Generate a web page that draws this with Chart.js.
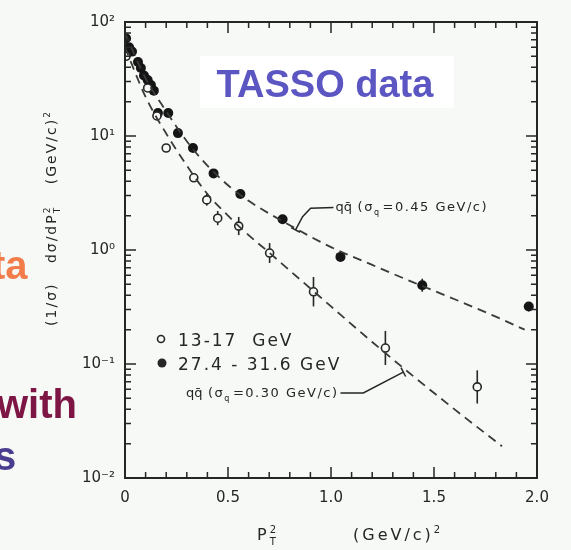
<!DOCTYPE html>
<html>
<head>
<meta charset="utf-8">
<script src="https://cdn.jsdelivr.net/npm/chart.js@4.4.0/dist/chart.umd.min.js"></script>
<style>
  html, body { margin: 0; padding: 0; background: #f6f9f5; }
  #wrap { position: relative; width: 571px; height: 550px; }
</style>
</head>
<body>
<div id="wrap"><canvas id="ptChart"></canvas></div>
<script>
// ===== P_T^2 distributions, TASSO =====

// 13-17 GeV (open circles)
const lowX  = [0.005, 0.11, 0.155, 0.20, 0.334, 0.397, 0.45, 0.552, 0.702, 0.915, 1.264, 1.71];
const lowY  = [50, 26.4, 15, 7.85, 4.3, 2.75, 1.9, 1.62, 0.94, 0.43, 0.138, 0.063];
const lowLo = [null, null, null, null, null, 2.45, 1.65, 1.35, 0.77, 0.32, 0.098, 0.045];
const lowHi = [null, null, null, null, null, 3.1, 2.2, 1.95, 1.15, 0.58, 0.195, 0.088];

// 27.4-31.6 GeV (filled circles)
const highX  = [0.005, 0.02, 0.034, 0.063, 0.077, 0.092, 0.11, 0.126, 0.14, 0.16, 0.21, 0.257, 0.33, 0.43, 0.56, 0.765, 1.046, 1.443, 1.96];
const highY  = [72, 60, 55, 44.5, 39.5, 34, 31, 28, 25, 15.9, 15.9, 10.6, 7.85, 4.7, 3.1, 1.86, 0.87, 0.49, 0.32];
const highLo = [null, null, null, null, null, null, null, null, null, null, null, null, null, null, null, 1.72, null, 0.43, 0.29];
const highHi = [null, null, null, null, null, null, null, null, null, null, null, null, null, null, null, 2.0, null, 0.56, 0.35];

// qq̄ model, sigma_q = 0.45 GeV/c
const hardX = [0, 0.1, 0.2, 0.3, 0.4, 0.5, 0.6, 0.8, 1.0, 1.2, 1.4, 1.6, 1.8, 1.94];
const hardY = [80, 32, 16.5, 9.0, 5.5, 3.7, 2.7, 1.65, 1.06, 0.74, 0.52, 0.37, 0.26, 0.2];

// qq̄ model, sigma_q = 0.30 GeV/c
const softX = [0, 0.1, 0.2, 0.3, 0.4, 0.5, 0.6, 0.7, 0.8, 0.9, 1.0, 1.2, 1.4, 1.6, 1.83];
const softY = [60, 22, 10.5, 5.5, 3.1, 2.0, 1.35, 0.95, 0.66, 0.46, 0.32, 0.156, 0.078, 0.04, 0.019];

// axes
const xTicks = [0, 0.5, 1.0, 1.5, 2.0];
const xTickText = ["0", "0.5", "1.0", "1.5", "2.0"];
const yTicks = [0.01, 0.1, 1, 10, 100];
const yTickText = ["10\u207B\u00B2", "10\u207B\u00B9", "10\u2070", "10\u00B9", "10\u00B2"];

// leader lines to the model curves (data units)
const hardLeader = [[0.828, 1.5], [0.862, 1.96], [0.901, 2.32], [1.012, 2.36]];
const softLeader = [[1.351, 0.085], [1.157, 0.0557], [1.046, 0.0557]];

const legendText = ["13-17  GeV", "27.4 - 31.6 GeV"];

const BG = "#f6f9f5";
const INK = "#262626";
const FONT = "'DejaVu Sans', sans-serif";

function pts(xs, ys) {
  return xs.map((x, i) => ({ x: x, y: ys[i] }));
}

function setSpacing(ctx, s) {
  if ("letterSpacing" in ctx) ctx.letterSpacing = s;
}

// plain runs and stacked sup/sub runs, left to right
function drawRuns(ctx, x, y, runs, size, measureOnly) {
  const x0 = x;
  runs.forEach((r) => {
    const keep = ctx.letterSpacing;
    if (r.tight) setSpacing(ctx, "0px");
    if (r.sup !== undefined || r.sub !== undefined) {
      ctx.font = Math.round(size * 0.62) + "px " + FONT;
      let w = 0;
      if (r.sup !== undefined) {
        if (!measureOnly) ctx.fillText(r.sup, x, y - size * 0.45);
        w = Math.max(w, ctx.measureText(r.sup).width);
      }
      if (r.sub !== undefined) {
        if (!measureOnly) ctx.fillText(r.sub, x, y + size * 0.3);
        w = Math.max(w, ctx.measureText(r.sub).width);
      }
      x += w + 2;
    } else {
      ctx.font = size + "px " + FONT;
      if (!measureOnly) ctx.fillText(r.t, x, y);
      x += ctx.measureText(r.t).width;
    }
    if (r.tight) setSpacing(ctx, keep);
  });
  return x - x0;
}

// vertical error bars, under the markers
const errBars = {
  id: "errBars",
  beforeDatasetsDraw(chart) {
    const { ctx, scales } = chart;
    ctx.save();
    ctx.strokeStyle = INK;
    ctx.lineWidth = 1.6;
    chart.data.datasets.forEach((ds) => {
      if (!ds.errLo) return;
      ds.data.forEach((p, i) => {
        if (ds.errLo[i] == null) return;
        const px = scales.x.getPixelForValue(p.x);
        ctx.beginPath();
        ctx.moveTo(px, scales.y.getPixelForValue(ds.errLo[i]));
        ctx.lineTo(px, scales.y.getPixelForValue(ds.errHi[i]));
        ctx.stroke();
      });
    });
    ctx.restore();
  },
};

// frame, inward ticks, titles, notes
const decor = {
  id: "decor",
  beforeDraw(chart) {
    const { ctx } = chart;
    ctx.save();
    ctx.fillStyle = BG;
    ctx.fillRect(0, 0, chart.width, chart.height);
    ctx.restore();
  },
  afterDraw(chart) {
    const { ctx, chartArea: a, scales } = chart;
    const xs = scales.x, ys = scales.y;
    ctx.save();

    // frame
    ctx.strokeStyle = INK;
    ctx.lineWidth = 2;
    ctx.strokeRect(a.left, a.top, a.right - a.left, a.bottom - a.top);

    // x ticks every 0.1
    ctx.lineWidth = 1.5;
    for (let k = 1; k < 20; k++) {
      const px = xs.getPixelForValue(k / 10);
      const len = k % 5 === 0 ? 11 : 6;
      ctx.beginPath();
      ctx.moveTo(px, a.bottom); ctx.lineTo(px, a.bottom - len);
      ctx.moveTo(px, a.top); ctx.lineTo(px, a.top + len);
      ctx.stroke();
    }
    // log ticks
    for (let d = -2; d < 2; d++) {
      for (let m = 1; m <= 9; m++) {
        const py = ys.getPixelForValue(m * Math.pow(10, d));
        const len = m === 1 ? 11 : 6;
        ctx.beginPath();
        ctx.moveTo(a.left, py); ctx.lineTo(a.left + len, py);
        ctx.moveTo(a.right, py); ctx.lineTo(a.right - len, py);
        ctx.stroke();
      }
    }

    ctx.fillStyle = INK;
    ctx.textAlign = "left";
    ctx.textBaseline = "alphabetic";

    // x title
    setSpacing(ctx, "3px");
    drawRuns(ctx, a.left + 132, 540, [{ t: "P" }, { sup: "2", sub: "T" }], 16);
    drawRuns(ctx, a.left + 228, 540, [{ t: "(GeV/c)" }, { sup: "2" }], 16);

    // y title, rotated
    ctx.save();
    ctx.translate(56, 0);
    ctx.rotate(-Math.PI / 2);
    setSpacing(ctx, "2px");
    const yRuns = [
      { t: "(1/\u03C3)   d\u03C3/dP" }, { sup: "2", sub: "T" },
      { t: "   (GeV/c)" }, { sup: "2" },
    ];
    const yw = drawRuns(ctx, 0, 0, yRuns, 14, true);
    drawRuns(ctx, -217 - yw / 2, 0, yRuns, 14);
    ctx.restore();

    // legend
    setSpacing(ctx, "2px");
    ctx.font = "17px " + FONT;
    const lx = a.left + 36;
    ctx.lineWidth = 1.6;
    ctx.beginPath();
    ctx.arc(lx, 339, 3.5, 0, Math.PI * 2);
    ctx.stroke();
    ctx.beginPath();
    ctx.arc(lx + 1, 363, 4.5, 0, Math.PI * 2);
    ctx.fill();
    ctx.fillText(legendText[0], lx + 17, 346);
    ctx.fillText(legendText[1], lx + 17, 370);

    // model notes with leaders
    setSpacing(ctx, "1.5px");
    const noteRuns = (s) => [{ t: "qq\u0304", tight: true }, { t: " (\u03C3" }, { sub: "q" }, { t: "=" + s + " GeV/c)" }];
    ctx.lineWidth = 1.5;
    [[hardLeader, "0.45", "left"], [softLeader, "0.30", "right"]].forEach(([ld, s, side]) => {
      const p = ld.map(([vx, vy]) => [xs.getPixelForValue(vx), ys.getPixelForValue(vy)]);
      ctx.beginPath();
      ctx.moveTo(p[0][0], p[0][1]);
      for (let i = 1; i < p.length; i++) ctx.lineTo(p[i][0], p[i][1]);
      ctx.stroke();
      // small cross bar at the curve end
      const dx = p[1][0] - p[0][0], dy = p[1][1] - p[0][1];
      const n = Math.hypot(dx, dy);
      const ux = -dy / n, uy = dx / n;
      ctx.beginPath();
      ctx.moveTo(p[0][0] - ux * 5, p[0][1] - uy * 5);
      ctx.lineTo(p[0][0] + ux * 5, p[0][1] + uy * 5);
      ctx.stroke();
      const end = p[p.length - 1];
      const runs = noteRuns(s);
      const w = drawRuns(ctx, 0, 0, runs, 13, true);
      const tx = side === "left" ? end[0] + 2 : end[0] - w - 2;
      drawRuns(ctx, tx, end[1] + 4, runs, 13);
    });

    // slide caption
    setSpacing(ctx, "0px");
    ctx.fillStyle = "#ffffff";
    ctx.fillRect(200, 56, 254, 52);
    ctx.fillStyle = "#5b56c2";
    ctx.font = "bold 38px 'Liberation Sans', Arial, sans-serif";
    ctx.textAlign = "center";
    ctx.fillText("TASSO data", 325, 97);

    // cut-off slide text on the left
    ctx.textAlign = "left";
    ctx.font = "bold 40px 'Liberation Sans', Arial, sans-serif";
    ctx.fillStyle = "#f27d4a";
    ctx.fillText("ta", -8, 279);
    ctx.fillStyle = "#7d1545";
    ctx.fillText("with", -3, 418);
    ctx.fillStyle = "#4a3d8f";
    ctx.fillText("s", -6, 470);

    ctx.restore();
  },
};

new Chart(document.getElementById("ptChart"), {
  type: "scatter",
  data: {
    datasets: [
      {
        type: "line",
        data: pts(hardX, hardY),
        borderColor: "#3a3a3a",
        borderWidth: 1.8,
        borderDash: [9, 6],
        pointRadius: 0,
        cubicInterpolationMode: "monotone",
        fill: false,
      },
      {
        type: "line",
        data: pts(softX, softY),
        borderColor: "#3a3a3a",
        borderWidth: 1.8,
        borderDash: [9, 6],
        pointRadius: 0,
        cubicInterpolationMode: "monotone",
        fill: false,
      },
      {
        data: pts(lowX, lowY),
        errLo: lowLo,
        errHi: lowHi,
        pointRadius: 4,
        pointBorderWidth: 1.6,
        pointBackgroundColor: BG,
        pointBorderColor: INK,
      },
      {
        data: pts(highX, highY),
        errLo: highLo,
        errHi: highHi,
        pointRadius: 5,
        pointBorderWidth: 0,
        pointBackgroundColor: "#151515",
        pointBorderColor: "#151515",
      },
    ],
  },
  options: {
    responsive: true,
    maintainAspectRatio: false,
    animation: false,
    events: [],
    layout: { padding: { left: 0, right: 34, top: 22, bottom: 0 } },
    plugins: { legend: { display: false }, tooltip: { enabled: false } },
    scales: {
      x: {
        type: "linear",
        min: 0,
        max: 2,
        afterFit: (s) => { s.height = 72; },
        afterBuildTicks: (s) => { s.ticks = xTicks.map((v) => ({ value: v })); },
        grid: { display: false, drawTicks: false },
        border: { display: false },
        ticks: {
          padding: 11,
          color: INK,
          font: { family: FONT, size: 15 },
          maxRotation: 0,
          callback: (v, i) => xTickText[i],
        },
      },
      y: {
        type: "logarithmic",
        min: 0.01,
        max: 100,
        afterFit: (s) => { s.width = 125; },
        afterBuildTicks: (s) => { s.ticks = yTicks.map((v) => ({ value: v })); },
        grid: { display: false, drawTicks: false },
        border: { display: false },
        ticks: {
          padding: 10,
          color: INK,
          font: { family: FONT, size: 15 },
          callback: (v, i) => yTickText[i],
        },
      },
    },
  },
  plugins: [errBars, decor],
});
</script>
</body>
</html>
